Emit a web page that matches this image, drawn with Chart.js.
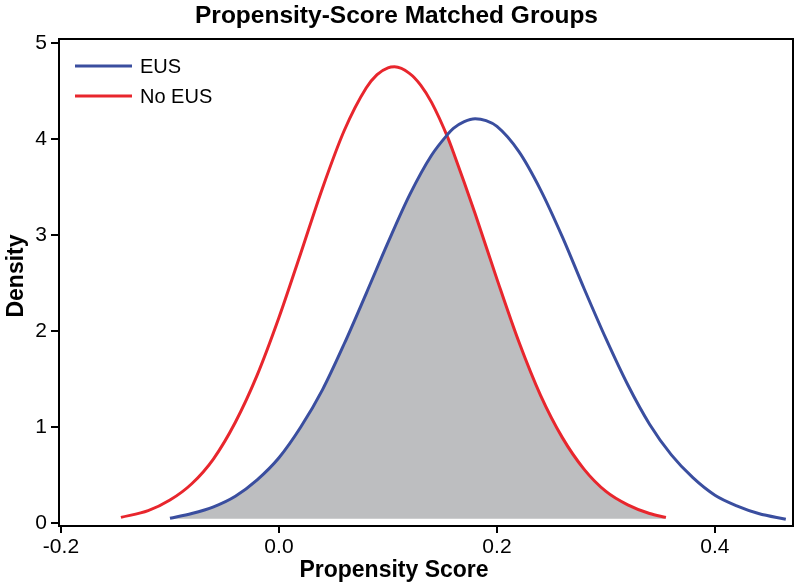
<!DOCTYPE html>
<html>
<head>
<meta charset="utf-8">
<title>Propensity-Score Matched Groups</title>
<script src="https://cdn.jsdelivr.net/npm/chart.js@4.4.1/dist/chart.umd.min.js"></script>
<style>
    html, body { margin: 0; padding: 0; background: #fff; }
    #wrap { width: 800px; height: 587px; }
</style>
</head>
<body>
<div id="wrap"><canvas id="density-chart" width="800" height="587"></canvas></div>
<script>
// Density curves
const xEUS = [-0.10, -0.08, -0.06, -0.04, -0.02, 0.00, 0.02, 0.04, 0.06, 0.08, 0.10, 0.12, 0.14, 0.155, 0.16, 0.17, 0.18, 0.19, 0.20, 0.22, 0.24, 0.26, 0.28, 0.30, 0.32, 0.34, 0.36, 0.38, 0.40, 0.42, 0.44, 0.465];
const yEUS = [0.05, 0.10, 0.17, 0.28, 0.45, 0.68, 1.00, 1.39, 1.87, 2.39, 2.92, 3.42, 3.83, 4.05, 4.11, 4.18, 4.21, 4.19, 4.13, 3.87, 3.47, 2.98, 2.44, 1.92, 1.44, 1.03, 0.71, 0.47, 0.29, 0.18, 0.10, 0.04];

const xNoEUS = [-0.145, -0.12, -0.10, -0.08, -0.06, -0.04, -0.02, 0.00, 0.02, 0.04, 0.06, 0.08, 0.09, 0.10, 0.106, 0.12, 0.13, 0.14, 0.155, 0.16, 0.18, 0.20, 0.22, 0.24, 0.26, 0.28, 0.30, 0.32, 0.34, 0.355];
const yNoEUS = [0.06, 0.13, 0.24, 0.41, 0.67, 1.05, 1.54, 2.14, 2.81, 3.49, 4.09, 4.53, 4.67, 4.74, 4.75, 4.68, 4.56, 4.38, 4.01, 3.86, 3.22, 2.54, 1.89, 1.33, 0.89, 0.56, 0.33, 0.19, 0.10, 0.06];

const xTicks = [-0.2, 0.0, 0.2, 0.4];
const yTicks = [0, 1, 2, 3, 4, 5];

const seriesLabels = ['EUS', 'No EUS'];
const FONT = "'Liberation Sans', Arial, Helvetica, sans-serif";

function toPoints(xs, ys) {
    return xs.map((x, i) => ({ x: x, y: ys[i] }));
}

// shaded overlap = lower of the two curves where both exist
function overlapPoints() {
    const pts = [];
    xEUS.forEach((x, i) => {
        const j = xNoEUS.indexOf(x);
        if (j >= 0) pts.push({ x: x, y: Math.min(yEUS[i], yNoEUS[j]) });
    });
    const last = xNoEUS.length - 1;
    pts.push({ x: xNoEUS[last], y: yNoEUS[last] });
    return pts;
}

// frame, legend and axis titles
const decorPlugin = {
    id: 'decor',
    afterDraw(chart) {
        const { ctx, chartArea: a } = chart;
        ctx.save();
        ctx.strokeStyle = '#000';
        ctx.lineWidth = 2;
        ctx.strokeRect(a.left, a.top, a.right - a.left, a.bottom - a.top);

        // legend
        chart.data.datasets.slice(0, 2).forEach((ds, i) => {
            const y = a.top + 27 + i * 30;
            ctx.strokeStyle = ds.borderColor;
            ctx.lineWidth = 3;
            ctx.beginPath();
            ctx.moveTo(a.left + 16, y);
            ctx.lineTo(a.left + 73, y);
            ctx.stroke();
            ctx.fillStyle = '#000';
            ctx.font = '20px ' + FONT;
            ctx.textBaseline = 'middle';
            ctx.textAlign = 'left';
            ctx.fillText(ds.label, a.left + 81, y + 1);
        });

        // axis titles
        ctx.fillStyle = '#000';
        ctx.font = 'bold 23px ' + FONT;
        ctx.textAlign = 'center';
        ctx.textBaseline = 'middle';
        ctx.fillText('Propensity Score', 394, 571);
        ctx.translate(17, 276);
        ctx.rotate(-Math.PI / 2);
        ctx.fillText('Density', 0, 0);
        ctx.restore();
    }
};

const ctx = document.getElementById('density-chart').getContext('2d');
new Chart(ctx, {
    type: 'scatter',
    data: {
        datasets: [
            {
                label: seriesLabels[0],
                data: toPoints(xEUS, yEUS),
                showLine: true,
                borderColor: '#3a4e9f',
                borderWidth: 3,
                pointRadius: 0,
                cubicInterpolationMode: 'monotone',
                fill: false
            },
            {
                label: seriesLabels[1],
                data: toPoints(xNoEUS, yNoEUS),
                showLine: true,
                borderColor: '#e8262d',
                borderWidth: 3,
                pointRadius: 0,
                cubicInterpolationMode: 'monotone',
                fill: false
            },
            {
                label: 'overlap',
                data: overlapPoints(),
                showLine: true,
                borderWidth: 0,
                borderColor: 'rgba(0,0,0,0)',
                backgroundColor: '#bdbec0',
                pointRadius: 0,
                cubicInterpolationMode: 'monotone',
                fill: { value: 0.045 }
            }
        ]
    },
    options: {
        responsive: false,
        animation: false,
        layout: { padding: { top: 0, right: 7, left: 0, bottom: 0 } },
        plugins: {
            legend: { display: false },
            tooltip: { enabled: false },
            title: {
                display: true,
                text: 'Propensity-Score Matched Groups',
                color: '#000',
                font: { family: FONT, size: 24.5, weight: 'bold' },
                padding: { top: 2, bottom: 7.6 }
            }
        },
        scales: {
            x: {
                type: 'linear',
                min: -0.2018,
                max: 0.4716,
                afterBuildTicks: (scale) => { scale.ticks = xTicks.map(v => ({ value: v })); },
                afterFit: (scale) => { scale.height = 61; },
                border: { display: false },
                grid: {
                    drawOnChartArea: false,
                    drawTicks: true,
                    tickLength: 7,
                    color: '#000',
                    lineWidth: 2
                },
                ticks: {
                    color: '#000',
                    padding: 2,
                    maxRotation: 0,
                    font: { family: FONT, size: 21 },
                    callback: (v) => v.toFixed(1)
                }
            },
            y: {
                type: 'linear',
                min: -0.03,
                max: 5.04,
                afterBuildTicks: (scale) => { scale.ticks = yTicks.map(v => ({ value: v })); },
                afterFit: (scale) => { scale.width = 59; },
                border: { display: false },
                grid: {
                    drawOnChartArea: false,
                    drawTicks: true,
                    tickLength: 8,
                    color: '#000',
                    lineWidth: 2
                },
                ticks: {
                    color: '#000',
                    padding: 4,
                    font: { family: FONT, size: 21 },
                    callback: (v) => String(v)
                }
            }
        }
    },
    plugins: [decorPlugin]
});
</script>
</body>
</html>
